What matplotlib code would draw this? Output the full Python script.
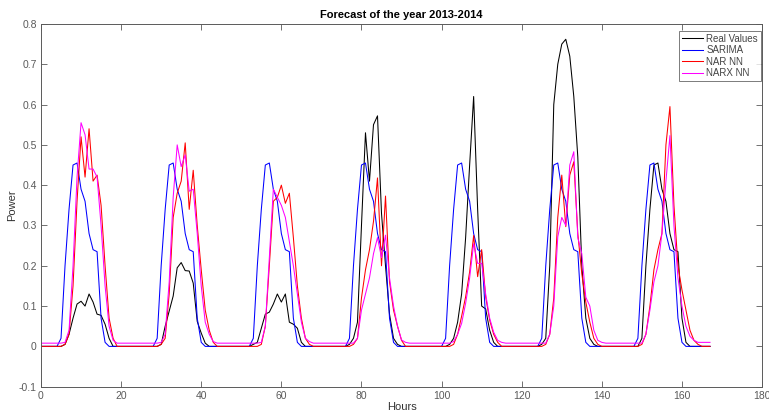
import numpy as np
import matplotlib
matplotlib.use("Agg")
import matplotlib.pyplot as plt

plt.rcParams['font.family'] = ['Liberation Sans', 'DejaVu Sans']

# hourly values, one row per day (7 days x 24 hours)
real_values = [
    0, 0, 0, 0, 0, 0, 0.005, 0.03, 0.07, 0.105, 0.112, 0.1, 0.13, 0.11, 0.08, 0.077, 0.055, 0.02, 0, 0, 0, 0, 0, 0,
    0, 0, 0, 0, 0, 0, 0.005, 0.05, 0.087, 0.125, 0.195, 0.208, 0.188, 0.187, 0.157, 0.062, 0.033, 0.008, 0, 0, 0, 0, 0, 0,
    0, 0, 0, 0, 0, 0.005, 0.01, 0.045, 0.08, 0.085, 0.105, 0.13, 0.11, 0.13, 0.06, 0.055, 0.045, 0.01, 0, 0, 0, 0, 0, 0,
    0, 0, 0, 0, 0, 0.005, 0.02, 0.06, 0.3, 0.53, 0.41, 0.55, 0.572, 0.33, 0.2, 0.08, 0.02, 0.005, 0, 0, 0, 0, 0, 0,
    0, 0, 0, 0, 0, 0, 0.005, 0.02, 0.06, 0.13, 0.27, 0.45, 0.62, 0.34, 0.1, 0.093, 0.04, 0.01, 0, 0, 0, 0, 0, 0,
    0, 0, 0, 0, 0, 0.005, 0.02, 0.2, 0.6, 0.7, 0.75, 0.762, 0.72, 0.62, 0.47, 0.2, 0.07, 0.02, 0.005, 0, 0, 0, 0, 0,
    0, 0, 0, 0, 0, 0, 0.02, 0.2, 0.34, 0.45, 0.455, 0.39, 0.36, 0.28, 0.24, 0.235, 0.07, 0.01, 0, 0, 0, 0, 0, 0,
]

sarima = [
    0, 0, 0, 0, 0, 0.02, 0.2, 0.34, 0.45, 0.455, 0.39, 0.36, 0.28, 0.24, 0.235, 0.07, 0.01, 0, 0, 0, 0, 0, 0, 0,
    0, 0, 0, 0, 0, 0.02, 0.2, 0.34, 0.45, 0.455, 0.39, 0.36, 0.28, 0.24, 0.235, 0.07, 0.01, 0, 0, 0, 0, 0, 0, 0,
    0, 0, 0, 0, 0, 0.02, 0.2, 0.34, 0.45, 0.455, 0.39, 0.36, 0.28, 0.24, 0.235, 0.07, 0.01, 0, 0, 0, 0, 0, 0, 0,
    0, 0, 0, 0, 0, 0.02, 0.2, 0.34, 0.45, 0.455, 0.39, 0.36, 0.28, 0.24, 0.235, 0.07, 0.01, 0, 0, 0, 0, 0, 0, 0,
    0, 0, 0, 0, 0, 0.02, 0.2, 0.34, 0.45, 0.455, 0.39, 0.36, 0.28, 0.24, 0.235, 0.07, 0.01, 0, 0, 0, 0, 0, 0, 0,
    0, 0, 0, 0, 0, 0.02, 0.2, 0.34, 0.45, 0.455, 0.39, 0.36, 0.28, 0.24, 0.235, 0.07, 0.01, 0, 0, 0, 0, 0, 0, 0,
    0, 0, 0, 0, 0, 0.02, 0.2, 0.34, 0.45, 0.455, 0.39, 0.36, 0.28, 0.24, 0.235, 0.07, 0.01, 0, 0, 0, 0, 0, 0, 0,
]

nar_nn = [
    0, 0, 0, 0, 0, 0, 0.005, 0.03, 0.15, 0.36, 0.52, 0.42, 0.54, 0.41, 0.425, 0.35, 0.2, 0.07, 0.02, 0, 0, 0, 0, 0,
    0, 0, 0, 0, 0, 0, 0.005, 0.02, 0.13, 0.32, 0.38, 0.41, 0.505, 0.34, 0.437, 0.3, 0.19, 0.09, 0.04, 0.01, 0, 0, 0, 0,
    0, 0, 0, 0, 0, 0, 0, 0.005, 0.05, 0.2, 0.36, 0.37, 0.4, 0.355, 0.38, 0.27, 0.15, 0.07, 0.02, 0.005, 0, 0, 0, 0,
    0, 0, 0, 0, 0, 0, 0.005, 0.02, 0.12, 0.19, 0.24, 0.31, 0.418, 0.2, 0.373, 0.16, 0.09, 0.05, 0.015, 0, 0, 0, 0, 0,
    0, 0, 0, 0, 0, 0, 0, 0.005, 0.03, 0.075, 0.123, 0.185, 0.275, 0.173, 0.24, 0.123, 0.065, 0.03, 0.01, 0, 0, 0, 0, 0,
    0, 0, 0, 0, 0, 0, 0.005, 0.03, 0.12, 0.32, 0.425, 0.297, 0.425, 0.458, 0.28, 0.18, 0.11, 0.06, 0.02, 0.005, 0, 0, 0, 0,
    0, 0, 0, 0, 0, 0, 0.005, 0.03, 0.1, 0.19, 0.24, 0.28, 0.5, 0.595, 0.35, 0.2, 0.14, 0.09, 0.04, 0.015, 0.005, 0, 0, 0,
]

narx_nn = [
    0.008, 0.008, 0.008, 0.008, 0.008, 0.008, 0.01, 0.04, 0.2, 0.42, 0.555, 0.525, 0.44, 0.44, 0.42, 0.3, 0.15, 0.05, 0.015, 0.008, 0.008, 0.008, 0.008, 0.008,
    0.008, 0.008, 0.008, 0.008, 0.008, 0.008, 0.01, 0.03, 0.16, 0.37, 0.5, 0.446, 0.475, 0.385, 0.39, 0.28, 0.15, 0.06, 0.03, 0.012, 0.008, 0.008, 0.008, 0.008,
    0.008, 0.008, 0.008, 0.008, 0.008, 0.008, 0.008, 0.01, 0.05, 0.22, 0.39, 0.37, 0.35, 0.32, 0.26, 0.2, 0.13, 0.06, 0.02, 0.012, 0.008, 0.008, 0.008, 0.008,
    0.008, 0.008, 0.008, 0.008, 0.008, 0.008, 0.008, 0.02, 0.09, 0.13, 0.17, 0.23, 0.27, 0.22, 0.276, 0.17, 0.1, 0.05, 0.016, 0.01, 0.008, 0.008, 0.008, 0.008,
    0.008, 0.008, 0.008, 0.008, 0.008, 0.008, 0.008, 0.012, 0.03, 0.057, 0.107, 0.17, 0.255, 0.206, 0.206, 0.13, 0.07, 0.035, 0.015, 0.01, 0.008, 0.008, 0.008, 0.008,
    0.008, 0.008, 0.008, 0.008, 0.008, 0.008, 0.008, 0.03, 0.1, 0.272, 0.32, 0.3, 0.45, 0.483, 0.27, 0.23, 0.122, 0.1, 0.04, 0.015, 0.01, 0.008, 0.008, 0.008,
    0.008, 0.008, 0.008, 0.008, 0.008, 0.008, 0.008, 0.03, 0.09, 0.16, 0.2, 0.28, 0.41, 0.523, 0.3, 0.17, 0.1, 0.05, 0.025, 0.015, 0.01, 0.01, 0.01, 0.01,
]

hours = np.arange(len(real_values))

fig = plt.figure(figsize=(7.69, 4.13), dpi=100)
ax = fig.add_axes([0.0533, 0.0637, 0.9377, 0.8783])

ax.plot(hours, real_values, color='#000000', lw=0.75, label='Real Values')
ax.plot(hours, sarima, color='#0000ff', lw=0.75, label='SARIMA')
ax.plot(hours, nar_nn, color='#ff0000', lw=0.75, label='NAR NN')
ax.plot(hours, narx_nn, color='#ff00ff', lw=0.75, label='NARX NN')

ax.set_xlim(0, 180)
ax.set_ylim(-0.1, 0.8)
ax.set_xticks(np.arange(0, 181, 20))
ax.set_yticks(np.arange(-0.1, 0.81, 0.1))
ax.set_yticklabels(['-0.1', '0', '0.1', '0.2', '0.3', '0.4', '0.5', '0.6', '0.7', '0.8'])

grey = '#5a5a5a'
for s in ax.spines.values():
    s.set_color(grey)
    s.set_linewidth(0.7)
ax.tick_params(direction='in', length=4.5, width=0.6, colors=grey,
               labelsize=7.5, top=True, right=True, pad=3)

ax.set_title('Forecast of the year 2013-2014', fontsize=8, fontweight='bold', pad=4)
ax.set_xlabel('Hours', fontsize=8, color='#333333', labelpad=1)
ax.set_ylabel('Power', fontsize=8, color='#333333', labelpad=1)

leg = ax.legend(loc='upper right', bbox_to_anchor=(0.998, 0.981), fontsize=7,
                frameon=True, fancybox=False, borderpad=0.3, labelspacing=0.15,
                handlelength=2.2, handletextpad=0.3, borderaxespad=0)
leg.get_frame().set_edgecolor(grey)
leg.get_frame().set_linewidth(0.7)
for t in leg.get_texts():
    t.set_color('#444444')

fig.savefig('out.png', dpi=100)
